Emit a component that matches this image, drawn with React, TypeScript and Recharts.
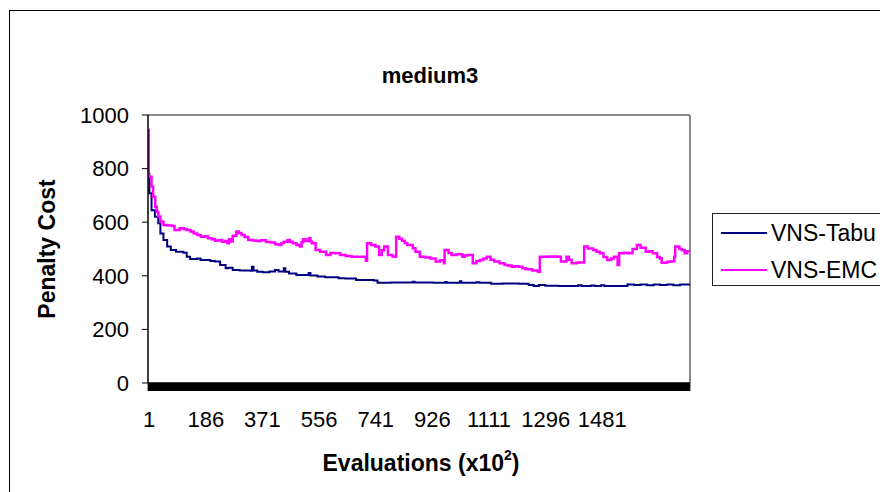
import React from 'react';
import { LineChart, Line, XAxis, YAxis, ReferenceLine, Legend } from 'recharts';

const FONT = '"Liberation Sans", Arial, sans-serif';

// evaluation categories (x10^2)
const N_EVAL = 1770;
const evalCategories = Array.from({ length: N_EVAL }, (_, k) => k + 1);
const xLabelTicks = [1, 186, 371, 556, 741, 926, 1111, 1296, 1481];
const yTicks = [0, 200, 400, 600, 800, 1000];
const seriesOrder = ['VNS-Tabu', 'VNS-EMC'];

// VNS-Tabu: evaluations where the penalty changes
const tabuEval = [
  1, 5, 12, 23, 34, 41, 51, 63, 75, 92, 116, 127, 138, 161, 172, 185, 204, 219, 236, 254,
  263, 277, 300, 335, 340, 345, 357, 375, 397, 415, 427, 444, 449, 461, 485, 525, 531, 554,
  579, 623, 644, 680, 738, 750, 794, 865, 871, 933, 971, 976, 1019, 1024, 1073, 1083, 1121,
  1159, 1212, 1244, 1260, 1277, 1298, 1341, 1405, 1416, 1448, 1459, 1480, 1491, 1566, 1588,
  1609, 1631, 1652, 1673, 1695, 1716, 1738, 1770,
];
const tabuCost = [
  780, 708, 645, 620, 596, 558, 534, 509, 496, 490, 486, 471, 463, 465, 459, 459, 455, 453, 440, 428,
  430, 422, 420, 419, 434, 420, 415, 413, 416, 422, 416, 428, 415, 409, 403, 410, 401, 397,
  395, 391, 390, 384, 382, 374, 375, 378, 375, 374, 377, 374, 380, 374, 376, 374, 370,
  371, 370, 366, 362, 366, 363, 362, 365, 362, 364, 362, 365, 362, 368, 366,
  368, 365, 368, 366, 368, 365, 368, 366,
];

// VNS-EMC
const emcEval = [
  1, 3, 12, 17, 24, 29, 34, 41, 51, 64, 80, 87, 104, 118, 127, 139, 150, 161, 173, 185,
  196, 209, 219, 231, 242, 252, 260, 265, 270, 277, 289, 297, 306, 316, 328, 343, 357, 370,
  386, 403, 416, 427, 436, 444, 456, 464, 473, 485, 496, 502, 507, 515, 525, 531, 536, 548,
  563, 582, 596, 611, 628, 646, 665, 709, 712, 716, 729, 743, 755, 764, 772, 784, 799, 808,
  811, 821, 830, 839, 847, 865, 874, 888, 906, 923, 940, 955, 967, 969, 982, 992, 1008, 1027,
  1035, 1044, 1061, 1073, 1085, 1096, 1107, 1119, 1131, 1148, 1165, 1177, 1188, 1199, 1211,
  1223, 1234, 1255, 1274, 1280, 1309, 1338, 1349, 1367, 1375, 1384, 1400, 1418, 1425, 1437,
  1454, 1465, 1476, 1488, 1500, 1513, 1522, 1534, 1539, 1555, 1568, 1583, 1597, 1609, 1626,
  1638, 1649, 1663, 1672, 1678, 1695, 1707, 1719, 1722, 1736, 1744, 1753, 1761, 1770,
];
const emcCost = [
  944, 770, 733, 695, 658, 639, 621, 602, 590, 588, 586, 571, 577, 574, 571, 565, 558, 552, 546, 548,
  540, 536, 531, 534, 527, 530, 521, 536, 528, 549, 565, 560, 552, 545, 534, 532, 530, 533,
  526, 524, 518, 515, 522, 527, 534, 527, 521, 515, 509, 525, 536, 530, 540, 528, 521, 496,
  490, 478, 485, 484, 478, 474, 471, 471, 456, 521, 515, 509, 478, 495, 509, 478, 472, 471,
  546, 538, 531, 522, 515, 503, 490, 471, 468, 465, 453, 458, 447, 496, 485, 478, 480, 471,
  476, 478, 447, 455, 459, 465, 471, 460, 453, 447, 440, 438, 434, 436, 434,
  428, 424, 420, 415, 471, 472, 471, 453, 471, 460, 447, 450, 450, 509, 502,
  496, 490, 484, 470, 459, 465, 471, 440, 484, 486, 484, 500, 515, 505, 490,
  492, 484, 470, 465, 449, 452, 453, 471, 509, 500, 495, 484, 492, 490,
];

const tabuData = tabuEval.map((e, k) => ({ evaluation: e, cost: tabuCost[k] }));
const emcData = emcEval.map((e, k) => ({ evaluation: e, cost: emcCost[k] }));

const XTick = ({ x, y, payload }: any) => {
  if (!xLabelTicks.includes(payload.value)) return null;
  return (
    <text x={x + 1} y={y + 36} textAnchor="middle" fill="#000" fontSize={22} fontFamily={FONT}>
      {payload.value}
    </text>
  );
};

const renderLegend = ({ payload }: any) => {
  const items = [...(payload || [])].sort(
    (a: any, b: any) => seriesOrder.indexOf(a.value) - seriesOrder.indexOf(b.value),
  );
  return (
    <div
      style={{
        position: 'relative',
        width: 176,
        height: 73,
        border: '1px solid #222',
        boxSizing: 'border-box',
        background: '#fff',
        fontFamily: FONT,
        fontSize: 23,
      }}
    >
      {items.map((p: any, i: number) => (
        <div
          key={`lg-${i}`}
          style={{ position: 'absolute', left: 8, top: 7 + i * 37, height: 24, display: 'flex', alignItems: 'center' }}
        >
          <span style={{ display: 'inline-block', width: 46, height: 1.5, background: p.color, marginRight: 4 }} />
          <span style={{ lineHeight: 1, color: '#000' }}>{p.value}</span>
        </div>
      ))}
    </div>
  );
};

export default function App() {
  return (
    <div style={{ position: 'relative', width: 880, height: 484, overflow: 'hidden', background: '#fff', fontFamily: FONT }}>
      <div style={{ position: 'absolute', left: 1, top: 2, width: 1000, height: 1000, border: '1px solid #000' }} />
      <div
        style={{
          position: 'absolute',
          left: 422,
          top: 68,
          transform: 'translate(-50%, -50%)',
          fontSize: 22,
          fontWeight: 'bold',
          lineHeight: 1,
          whiteSpace: 'nowrap',
        }}
      >
        medium3
      </div>
      <div
        style={{
          position: 'absolute',
          left: 39,
          top: 241,
          transform: 'translate(-50%, -50%) rotate(-90deg)',
          fontSize: 23,
          fontWeight: 'bold',
          lineHeight: 1,
          whiteSpace: 'nowrap',
        }}
      >
        Penalty Cost
      </div>
      <div
        style={{
          position: 'absolute',
          left: 413,
          top: 455,
          transform: 'translate(-50%, -50%)',
          fontSize: 23,
          fontWeight: 'bold',
          lineHeight: 1,
          whiteSpace: 'nowrap',
        }}
      >
        Evaluations (x10<sup style={{ fontSize: 14, verticalAlign: 'top', position: 'relative', top: -4 }}>2</sup>)
      </div>
      <div style={{ position: 'absolute', left: 0, top: 0 }}>
        <LineChart width={880} height={484} margin={{ top: 107, right: 198, bottom: 79, left: 0 }}>
          <XAxis
            dataKey="evaluation"
            type="number"
            domain={[0.5, N_EVAL + 0.5]}
            ticks={evalCategories}
            interval={0}
            tick={<XTick />}
            tickSize={8}
            tickMargin={0}
            tickLine={{ stroke: '#000', strokeWidth: 1 }}
            axisLine={{ stroke: '#000', strokeWidth: 1.5 }}
            height={30}
            allowDataOverflow
          />
          <YAxis
            type="number"
            domain={[0, 1000]}
            ticks={yTicks}
            width={140}
            tickSize={6}
            tickMargin={13}
            tick={{ fontSize: 22, fill: '#000', fontFamily: FONT }}
            tickLine={{ stroke: '#000' }}
            axisLine={{ stroke: '#000', strokeWidth: 1.5 }}
          />
          <ReferenceLine y={1000} stroke="#888" strokeWidth={2} />
          <ReferenceLine x={N_EVAL + 0.5} stroke="#888" strokeWidth={2} />
          <Legend
            layout="vertical"
            align="center"
            verticalAlign="middle"
            content={renderLegend}
            wrapperStyle={{ left: 704, top: 205, width: 176, height: 73 }}
          />
          <Line
            data={tabuData}
            dataKey="cost"
            name="VNS-Tabu"
            type="stepAfter"
            stroke="#000080"
            strokeWidth={2}
            dot={false}
            isAnimationActive={false}
          />
          <Line
            data={emcData}
            dataKey="cost"
            name="VNS-EMC"
            type="stepAfter"
            stroke="#FF00FF"
            strokeWidth={2.5}
            dot={false}
            isAnimationActive={false}
          />
        </LineChart>
      </div>
    </div>
  );
}
